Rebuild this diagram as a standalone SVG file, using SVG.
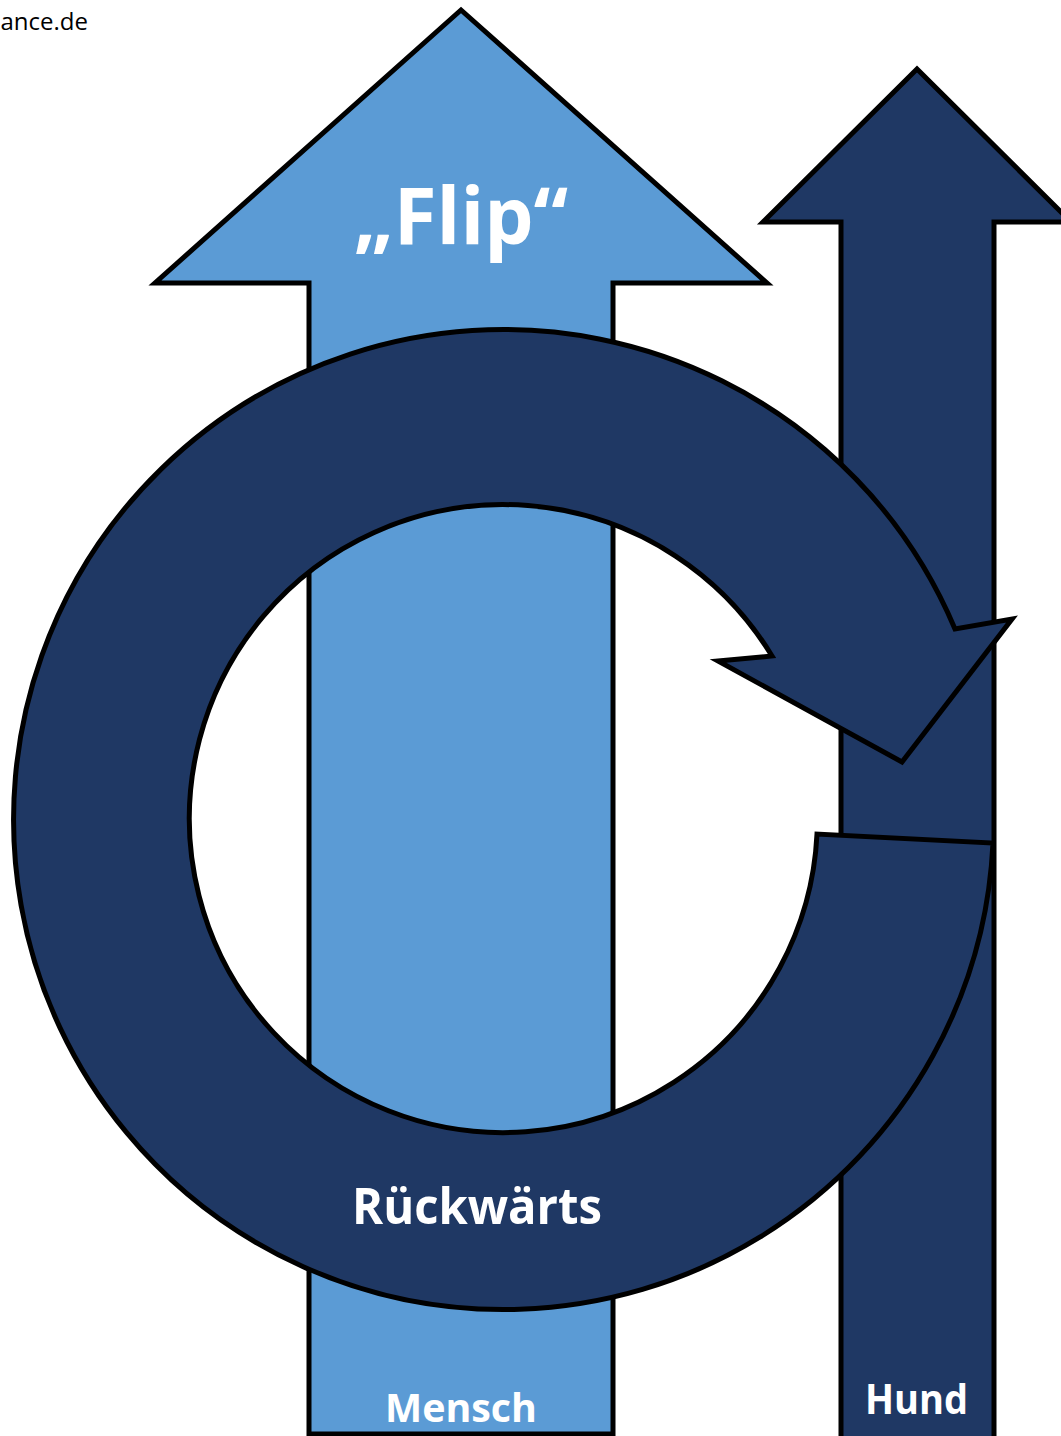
<svg xmlns="http://www.w3.org/2000/svg" width="1061" height="1436" viewBox="0 0 1061 1436">
<style>
.shape{stroke:#000;stroke-width:5;stroke-linejoin:miter;stroke-miterlimit:10}
.light{fill:#5B9BD5}
.dark{fill:#1F3864}
.lbl{font-family:"Open Sans","Noto Sans",sans-serif;font-weight:bold;fill:#fff;text-anchor:middle}
.src{font-family:"Open Sans","Noto Sans",sans-serif;font-size:24px;fill:#000;text-anchor:end}
</style>
<rect width="1061" height="1436" fill="#fff"/>
<text class="src" x="88" y="30">ance.de</text>
<g id="mensch">
<path class="shape light" d="M309 1434 L309 283 L155 283 L461 10 L767 283 L613 283 L613 1434 Z"/>
<text class="lbl" x="461" y="244" font-size="78">„Flip“</text>
<text class="lbl" x="461" y="1422" font-size="40" textLength="152" lengthAdjust="spacingAndGlyphs">Mensch</text>
</g>
<g id="hund">
<path class="shape dark" d="M841 1450 L841 222 L763 222 L917 69 L1071 222 L994 222 L994 1450 Z"/>
<text class="lbl" x="916.5" y="1414" font-size="42" textLength="103" lengthAdjust="spacingAndGlyphs">Hund</text>
</g>
<g id="rueckwaerts">
<path class="shape dark" d="M993 843 A490 490 0 1 1 955 629 L1012 619 L902 762 L718 661 L772 656 A314 314 0 1 0 817 834 Z"/>
<text class="lbl" x="477" y="1224" font-size="51" textLength="250" lengthAdjust="spacingAndGlyphs">Rückwärts</text>
</g>
<g id="connectors"></g>
</svg>
